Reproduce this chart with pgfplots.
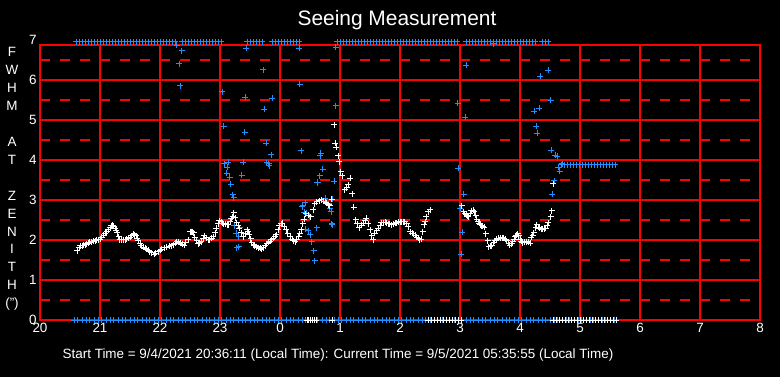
\documentclass[border=0pt]{standalone}
\usepackage{pgfplots}
\pgfplotsset{compat=1.18}
\usepackage{fontspec}
\setmainfont{Liberation Sans}
\definecolor{mblue}{RGB}{30,144,255}
\begin{document}
\begin{tikzpicture}
\fill[black] (-40bp,-57bp) rectangle (740bp,320bp);
\begin{axis}[
  at={(0,0)}, anchor=south west,
  scale only axis, width=720bp, height=275bp,
  xmin=20, xmax=32, ymin=0, ymax=6.875,
  xtick={20,...,32}, xticklabels={20,21,22,23,0,1,2,3,4,5,6,7,8},
  ytick={0,...,6}, yticklabels={0,1,2,3,4,5,6},
  xmajorgrids=true, ymajorgrids=true,
  every axis grid/.style={red, line width=1.3bp, solid},
  every major grid/.style={red, line width=1.3bp, solid},
  every axis y grid/.style={red, line width=1.3bp},
  extra y ticks={0.5,1.5,2.5,3.5,4.5,5.5,6.5},
  extra y tick labels={},
  extra y tick style={grid=major,
     every major grid/.style={red, line width=1.3bp, dash pattern=on 10bp off 10bp},
     every axis y grid/.style={red, line width=1.3bp, dash pattern=on 10bp off 10bp}},
  axis line style={red, line width=1.3bp},
  major tick length=0pt, minor tick length=0pt,
  tick label style={white, font=\fontsize{13.5}{16}\selectfont},
  clip=false,
  axis background/.style={fill=black},
]
% blue: bottom row at 0
\addplot[only marks, mark=+, mark size=3bp, line width=1bp, mblue] coordinates {
(20.57,0)(20.63,0)(20.70,0)(20.77,0)(20.83,0)(20.90,0)(20.97,0)(21.03,0)(21.10,0)(21.17,0)(21.23,0)(21.30,0)(21.37,0)(21.43,0)(21.50,0)(21.57,0)(21.63,0)(21.70,0)(21.77,0)(21.83,0)(21.90,0)(21.97,0)(22.03,0)(22.10,0)(22.17,0)(22.23,0)(22.30,0)(22.37,0)(22.43,0)(22.50,0)(22.57,0)(22.63,0)(22.70,0)(22.77,0)(22.83,0)(22.90,0)(22.97,0)(23.03,0)(23.10,0)(23.17,0)(23.23,0)(23.30,0)(23.37,0)(23.43,0)(23.50,0)(23.57,0)(23.63,0)(23.70,0)(23.77,0)(23.83,0)(23.90,0)(23.97,0)(24.03,0)(24.10,0)(24.17,0)(24.23,0)(24.30,0)(24.37,0)(24.43,0)(24.50,0)(24.57,0)(24.63,0)(24.70,0)(24.77,0)(24.83,0)(24.90,0)(24.97,0)(25.03,0)(25.10,0)(25.17,0)(25.23,0)(25.30,0)(25.37,0)(25.43,0)(25.50,0)(25.57,0)(25.63,0)(25.70,0)(25.77,0)(25.83,0)(25.90,0)(25.97,0)(26.03,0)(26.10,0)(26.17,0)(26.23,0)(26.30,0)(26.37,0)(26.43,0)(26.50,0)(26.57,0)(26.63,0)(26.70,0)(26.77,0)(26.83,0)(26.90,0)(26.97,0)(27.03,0)(27.10,0)(27.17,0)(27.23,0)(27.30,0)(27.37,0)(27.43,0)(27.50,0)(27.57,0)(27.63,0)(27.70,0)(27.77,0)(27.83,0)(27.90,0)(27.97,0)(28.03,0)(28.10,0)(28.17,0)(28.23,0)(28.30,0)(28.37,0)(28.43,0)(28.50,0)(28.57,0)(28.63,0)(28.70,0)(28.77,0)(28.83,0)(28.90,0)(28.97,0)(29.03,0)(29.10,0)(29.17,0)(29.23,0)(29.30,0)(29.37,0)(29.43,0)(29.50,0)(29.57,0)
};
% blue: top row
\addplot[only marks, mark=+, mark size=3bp, line width=1bp, mblue] coordinates {
(20.60,6.95)(20.65,6.95)(20.70,6.95)(20.75,6.95)(20.80,6.95)(20.85,6.95)(20.90,6.95)(20.95,6.95)(21.00,6.95)(21.05,6.95)(21.10,6.95)(21.15,6.95)(21.20,6.95)(21.25,6.95)(21.30,6.95)(21.35,6.95)(21.40,6.95)(21.45,6.95)(21.50,6.95)(21.55,6.95)(21.60,6.95)(21.65,6.95)(21.70,6.95)(21.75,6.95)(21.80,6.95)(21.85,6.95)(21.90,6.95)(21.95,6.95)(22.00,6.95)(22.05,6.95)(22.10,6.95)(22.15,6.95)(22.20,6.95)(22.25,6.95)
(22.37,6.95)(22.42,6.95)(22.47,6.95)(22.52,6.95)(22.57,6.95)(22.62,6.95)(22.67,6.95)(22.72,6.95)(22.77,6.95)(22.82,6.95)(22.87,6.95)(22.92,6.95)(22.97,6.95)(23.02,6.95)
(23.45,6.95)(23.50,6.95)(23.55,6.95)(23.60,6.95)(23.65,6.95)(23.70,6.95)
(23.87,6.95)(23.92,6.95)(23.97,6.95)(24.02,6.95)(24.07,6.95)(24.12,6.95)(24.17,6.95)(24.22,6.95)(24.27,6.95)(24.32,6.95)
(24.95,6.95)(25.00,6.95)(25.05,6.95)(25.10,6.95)(25.15,6.95)(25.20,6.95)(25.25,6.95)(25.30,6.95)(25.35,6.95)(25.40,6.95)(25.45,6.95)(25.50,6.95)(25.55,6.95)(25.60,6.95)(25.65,6.95)(25.70,6.95)(25.75,6.95)(25.80,6.95)(25.85,6.95)(25.90,6.95)(25.95,6.95)(26.00,6.95)(26.05,6.95)(26.10,6.95)(26.15,6.95)(26.20,6.95)(26.25,6.95)(26.30,6.95)(26.35,6.95)(26.40,6.95)(26.45,6.95)(26.50,6.95)(26.55,6.95)(26.60,6.95)(26.65,6.95)(26.70,6.95)(26.75,6.95)(26.80,6.95)(26.85,6.95)(26.90,6.95)(26.95,6.95)
(27.10,6.95)(27.15,6.95)(27.20,6.95)(27.25,6.95)(27.30,6.95)(27.35,6.95)(27.40,6.95)(27.45,6.95)(27.50,6.95)(27.55,6.95)(27.60,6.95)(27.65,6.95)(27.70,6.95)(27.75,6.95)(27.80,6.95)(27.85,6.95)(27.90,6.95)(27.95,6.95)(28.00,6.95)(28.05,6.95)(28.10,6.95)(28.15,6.95)(28.20,6.95)(28.25,6.95)
(28.37,6.95)(28.42,6.95)(28.47,6.95)
};
% blue: row near 3.9
\addplot[only marks, mark=+, mark size=3bp, line width=1bp, mblue] coordinates {
(28.69,3.875)(28.74,3.875)(28.79,3.875)(28.84,3.875)(28.89,3.875)(28.94,3.875)(28.99,3.875)(29.04,3.875)(29.09,3.875)(29.14,3.875)(29.19,3.875)(29.24,3.875)(29.29,3.875)(29.34,3.875)(29.39,3.875)(29.44,3.875)(29.49,3.875)(29.54,3.875)(29.59,3.875)
};
% blue: scattered
\addplot[only marks, mark=+, mark size=3bp, line width=1bp, mblue] coordinates {
(22.28,6.87)(22.36,6.73)(22.32,6.4)(22.34,5.85)(23.04,5.7)(23.06,4.84)(23.44,6.79)(23.42,5.57)(23.41,4.69)
(23.72,6.25)(23.74,5.27)(23.87,5.54)(23.77,4.42)(23.85,4.13)(23.78,3.93)(23.81,3.9)(23.82,3.85)
(24.32,6.79)(24.33,5.89)(24.35,4.23)(24.68,4.17)(24.67,4.11)(24.71,3.77)(24.66,3.6)(24.62,3.44)
(24.93,6.82)(24.93,5.35)(24.9,3.47)
(23.07,3.9)(23.14,3.94)(23.12,3.82)(23.11,3.67)(23.16,3.57)(23.18,3.39)(23.21,3.13)(23.23,3.06)
(23.39,3.94)(23.36,3.62)(23.24,2.36)(23.27,2.17)(23.33,2.31)(23.28,1.81)(23.31,1.83)(23.31,2.08)
(24.38,2.85)(24.42,2.93)(24.37,2.83)(24.40,2.69)(24.44,2.67)(24.49,2.6)(24.43,2.27)(24.47,2.23)
(24.50,2.13)(24.53,1.96)(24.56,1.73)(24.58,1.48)(24.61,2.31)(24.63,3.43)(24.75,3.04)(24.77,2.96)
(24.81,2.9)(24.83,2.79)(24.85,2.71)(24.87,3.02)(24.86,2.4)(24.87,2.38)
(27.1,6.37)(26.96,5.42)(27.09,5.07)(26.97,3.79)(27.06,3.14)(27.0,2.79)(27.04,2.19)(27.02,1.64)
(28.47,6.24)(28.34,6.09)(28.51,5.49)(28.32,5.29)(28.24,5.22)(28.27,4.84)(28.29,4.67)(28.52,4.24)
(28.59,4.12)(28.62,4.09)(28.7,3.91)(28.64,3.82)(28.66,3.72)(28.57,3.48)(28.54,3.14)(27.56,6.9)
};
% white: at zero
\addplot[only marks, mark=+, mark size=3bp, line width=1bp, white] coordinates {
(24.45,0)(24.48,0)(24.51,0)(24.54,0)(24.57,0)(24.60,0)(24.87,0)
(26.47,0)(26.52,0)(26.57,0)(26.62,0)(26.67,0)(26.72,0)(26.77,0)(26.82,0)(26.87,0)(26.92,0)(26.97,0)(27.02,0)
(28.55,0)(28.60,0)(28.65,0)(28.70,0)(28.75,0)(28.80,0)(28.85,0)(28.90,0)(28.95,0)(29.00,0)(29.05,0)(29.10,0)(29.15,0)(29.20,0)(29.25,0)(29.30,0)(29.35,0)(29.40,0)(29.45,0)(29.50,0)(29.55,0)(29.60,0)
};
% white: seeing curve
\addplot[only marks, mark=+, mark size=3bp, line width=1bp, white] table {
20.62 1.73
20.65 1.80
20.67 1.85
20.70 1.86
20.72 1.87
20.75 1.88
20.78 1.90
20.81 1.92
20.83 1.94
20.86 1.95
20.89 1.97
20.92 1.98
20.94 2.00
20.97 2.00
21.00 2.02
21.03 2.07
21.06 2.12
21.09 2.17
21.11 2.21
21.14 2.26
21.17 2.31
21.19 2.35
21.21 2.37
21.23 2.34
21.25 2.29
21.27 2.24
21.29 2.18
21.31 2.08
21.33 2.00
21.36 2.00
21.39 2.00
21.42 2.01
21.44 2.02
21.47 2.04
21.50 2.07
21.53 2.11
21.56 2.15
21.58 2.13
21.60 2.10
21.62 2.04
21.64 1.98
21.67 1.90
21.69 1.85
21.72 1.82
21.75 1.79
21.77 1.77
21.80 1.74
21.83 1.71
21.86 1.68
21.90 1.64
21.93 1.67
21.97 1.71
22.00 1.74
22.03 1.77
22.07 1.80
22.11 1.82
22.15 1.84
22.19 1.85
22.22 1.88
22.25 1.92
22.28 1.96
22.31 1.94
22.34 1.92
22.37 1.89
22.40 1.87
22.43 1.93
22.47 2.00
22.50 2.21
22.52 2.21
22.54 2.20
22.56 2.18
22.58 2.07
22.61 1.98
22.64 1.90
22.66 1.93
22.69 1.96
22.72 2.03
22.74 2.10
22.77 2.06
22.81 2.00
22.83 2.00
22.86 2.04
22.89 2.08
22.92 2.18
22.94 2.29
22.97 2.40
22.99 2.48
23.02 2.45
23.04 2.42
23.06 2.40
23.09 2.39
23.12 2.38
23.14 2.38
23.17 2.45
23.19 2.53
23.21 2.58
23.23 2.68
23.25 2.55
23.28 2.43
23.30 2.35
23.32 2.29
23.35 2.18
23.39 2.08
23.42 2.16
23.45 2.25
23.47 2.20
23.49 2.13
23.51 2.03
23.53 1.93
23.56 1.88
23.58 1.86
23.61 1.83
23.64 1.81
23.67 1.79
23.69 1.77
23.72 1.80
23.75 1.85
23.78 1.90
23.81 1.94
23.84 1.97
23.86 2.00
23.89 2.04
23.92 2.09
23.94 2.13
23.97 2.25
23.99 2.35
24.02 2.40
24.04 2.42
24.07 2.33
24.10 2.25
24.13 2.17
24.17 2.08
24.20 2.02
24.22 1.98
24.25 1.96
24.28 2.00
24.31 2.08
24.33 2.16
24.35 2.25
24.38 2.40
24.40 2.52
24.43 2.65
24.47 2.62
24.51 2.58
24.55 2.75
24.58 2.90
24.61 2.96
24.65 2.98
24.69 3.00
24.73 2.97
24.76 2.94
24.78 2.92
24.81 2.88
24.83 2.85
24.86 3.02
24.90 4.88
24.92 4.42
24.94 4.32
24.97 4.10
24.99 3.96
25.01 3.71
25.04 3.60
25.08 3.25
25.11 3.30
25.14 3.38
25.17 3.54
25.20 3.15
25.23 2.82
25.26 2.50
25.29 2.40
25.32 2.31
25.36 2.37
25.39 2.42
25.42 2.48
25.44 2.54
25.47 2.40
25.50 2.25
25.53 2.10
25.55 2.00
25.58 2.17
25.61 2.23
25.64 2.29
25.67 2.37
25.69 2.43
25.72 2.43
25.75 2.44
25.78 2.43
25.81 2.41
25.83 2.40
25.86 2.38
25.89 2.40
25.92 2.42
25.94 2.43
25.97 2.44
26.00 2.45
26.03 2.46
26.06 2.46
26.08 2.46
26.11 2.40
26.14 2.33
26.17 2.21
26.20 2.17
26.22 2.15
26.25 2.12
26.28 2.07
26.31 2.04
26.33 2.00
26.35 2.02
26.38 2.20
26.40 2.38
26.42 2.46
26.44 2.58
26.47 2.71
26.50 2.75
27.03 2.85
27.06 2.71
27.08 2.66
27.10 2.63
27.12 2.60
27.14 2.58
27.17 2.66
27.19 2.73
27.22 2.74
27.24 2.71
27.26 2.62
27.28 2.52
27.30 2.46
27.32 2.42
27.34 2.38
27.36 2.35
27.38 2.34
27.40 2.32
27.43 2.15
27.46 1.98
27.48 1.83
27.50 1.84
27.53 1.85
27.56 1.93
27.58 1.98
27.61 2.02
27.64 2.04
27.67 2.04
27.70 2.05
27.73 2.04
27.76 2.02
27.78 1.98
27.81 1.92
27.83 1.87
27.86 1.90
27.88 1.96
27.90 2.02
27.92 2.08
27.94 2.12
27.96 2.15
27.98 2.10
28.00 2.02
28.02 1.97
28.04 1.93
28.07 1.95
28.11 1.96
28.14 1.94
28.17 1.92
28.19 2.07
28.21 2.12
28.23 2.18
28.26 2.30
28.28 2.38
28.30 2.32
28.32 2.29
28.35 2.28
28.38 2.27
28.40 2.28
28.43 2.29
28.45 2.35
28.47 2.43
28.51 2.58
28.53 2.73
28.55 3.40
};
\node[white, anchor=east, font=\fontsize{13.5}{16}\selectfont] at (axis cs:20,7) {7};
\end{axis}
\node[white, font=\fontsize{21}{24}\selectfont] at (357bp,300bp) {Seeing Measurement};
\node[white, align=center, font=\fontsize{13.5}{18}\selectfont] at (-28bp,141bp)
  {F\\W\\H\\M\\\mbox{}\\A\\T\\\mbox{}\\Z\\E\\N\\I\\T\\H\\(")};
\node[white, font=\fontsize{13.5}{16}\selectfont] at (298bp,-35bp)
  {Start Time = 9/4/2021 20:36:11 (Local Time): Current Time = 9/5/2021 05:35:55 (Local Time)};
\end{tikzpicture}
\end{document}
